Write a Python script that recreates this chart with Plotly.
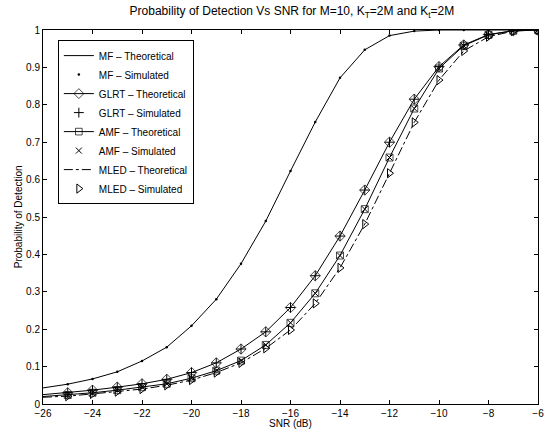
import plotly.graph_objects as go

snr_theory = list(range(-26, -5))
snr_sim = list(range(-25, -5))

mf_theory = [0.043, 0.053, 0.067, 0.086, 0.115, 0.152, 0.209, 0.280, 0.375, 0.489,
             0.623, 0.754, 0.872, 0.947, 0.985, 0.997, 1.0, 1.0, 1.0, 1.0, 1.0]
mf_sim = [0.053, 0.067, 0.086, 0.115, 0.152, 0.209, 0.280, 0.375, 0.489,
          0.623, 0.754, 0.872, 0.947, 0.985, 0.997, 1.0, 1.0, 1.0, 1.0, 1.0]

glrt_theory = [0.025, 0.030, 0.037, 0.045, 0.054, 0.066, 0.084, 0.110, 0.147, 0.193,
               0.258, 0.343, 0.449, 0.572, 0.700, 0.815, 0.902, 0.960, 0.988, 0.998, 1.0]
glrt_sim = [0.030, 0.037, 0.045, 0.054, 0.066, 0.084, 0.110, 0.147, 0.193,
            0.258, 0.343, 0.449, 0.572, 0.700, 0.815, 0.902, 0.960, 0.988, 0.998, 1.0]

amf_theory = [0.020, 0.024, 0.030, 0.037, 0.045, 0.054, 0.069, 0.089, 0.116, 0.158,
              0.217, 0.296, 0.397, 0.521, 0.659, 0.790, 0.897, 0.958, 0.987, 0.998, 1.0]
amf_sim = [0.024, 0.030, 0.037, 0.045, 0.054, 0.069, 0.089, 0.116, 0.158,
           0.217, 0.296, 0.397, 0.521, 0.659, 0.790, 0.897, 0.958, 0.987, 0.998, 1.0]

mled_theory = [0.018, 0.021, 0.027, 0.033, 0.040, 0.050, 0.064, 0.084, 0.110, 0.149,
               0.198, 0.269, 0.364, 0.481, 0.617, 0.753, 0.866, 0.944, 0.982, 0.997, 1.0]
mled_sim = [0.021, 0.027, 0.033, 0.040, 0.050, 0.064, 0.084, 0.110, 0.149,
            0.198, 0.269, 0.364, 0.481, 0.617, 0.753, 0.866, 0.944, 0.982, 0.997, 1.0]

x_ticks = list(range(-26, -5, 2))
y_ticks = [0, 0.1, 0.2, 0.3, 0.4, 0.5, 0.6, 0.7, 0.8, 0.9, 1]
y_tick_labels = ["0", "0.1", "0.2", "0.3", "0.4", "0.5", "0.6", "0.7", "0.8", "0.9", "1"]

BLACK = "black"

fig = go.Figure()

fig.add_trace(go.Scatter(x=snr_theory, y=mf_theory, mode="lines",
                         line=dict(color=BLACK, width=1), name="MF \u2013 Theoretical"))
fig.add_trace(go.Scatter(x=snr_sim, y=mf_sim, mode="markers",
                         marker=dict(color=BLACK, size=2.5, symbol="circle"),
                         name="MF \u2013 Simulated"))
fig.add_trace(go.Scatter(x=snr_theory, y=glrt_theory, mode="lines+markers",
                         line=dict(color=BLACK, width=1),
                         marker=dict(symbol="diamond-open", size=[0] + [8] * 20, color=BLACK,
                                     line=dict(width=1)),
                         name="GLRT \u2013 Theoretical"))
fig.add_trace(go.Scatter(x=snr_sim, y=glrt_sim, mode="markers",
                         marker=dict(symbol="cross-thin-open", size=7, color=BLACK,
                                     line=dict(width=1, color=BLACK)),
                         name="GLRT \u2013 Simulated"))
fig.add_trace(go.Scatter(x=snr_theory, y=amf_theory, mode="lines+markers",
                         line=dict(color=BLACK, width=1),
                         marker=dict(symbol="square-open", size=[0] + [7] * 20, color=BLACK,
                                     line=dict(width=1)),
                         name="AMF \u2013 Theoretical"))
fig.add_trace(go.Scatter(x=snr_sim, y=amf_sim, mode="markers",
                         marker=dict(symbol="x-thin-open", size=6, color=BLACK,
                                     line=dict(width=1, color=BLACK)),
                         name="AMF \u2013 Simulated"))
fig.add_trace(go.Scatter(x=snr_theory, y=mled_theory, mode="lines",
                         line=dict(color=BLACK, width=1, dash="dashdot"),
                         name="MLED \u2013 Theoretical"))
fig.add_trace(go.Scatter(x=snr_sim, y=mled_sim, mode="markers",
                         marker=dict(symbol="triangle-right-open", size=8, color=BLACK,
                                     line=dict(width=1)),
                         name="MLED \u2013 Simulated"))

axis_common = dict(showline=True, linecolor=BLACK, linewidth=1, mirror="allticks",
                   ticks="inside", ticklen=4, tickcolor=BLACK, showgrid=False,
                   zeroline=False, tickfont=dict(size=10, color=BLACK))

fig.update_layout(
    width=556, height=432,
    paper_bgcolor="white", plot_bgcolor="white",
    font=dict(family="Liberation Sans, Arial, sans-serif", size=10, color=BLACK),
    margin=dict(l=43, r=14, t=30, b=28),
    title=dict(text="Probability of Detection Vs SNR for M=10, K<sub>T</sub>=2M and K<sub>t</sub>=2M",
               x=0.525, xanchor="center", y=0.975, yanchor="middle",
               font=dict(size=12, color=BLACK)),
    xaxis=dict(range=[-26, -6], tickvals=x_ticks,
               ticktext=[str(v).replace("-", "\u2212") for v in x_ticks], **axis_common),
    yaxis=dict(range=[0, 1], tickvals=y_ticks, ticktext=y_tick_labels, **axis_common),
    legend=dict(x=0.03, y=0.973, xanchor="left", yanchor="top",
                bgcolor="white", bordercolor=BLACK, borderwidth=1,
                font=dict(size=10, color=BLACK), itemwidth=30,
                tracegroupgap=0),
    showlegend=True,
    annotations=[
        dict(text="SNR (dB)", xref="paper", yref="paper", x=0.5, y=-0.051,
             xanchor="center", yanchor="middle", showarrow=False, font=dict(size=10)),
        dict(text="Probability of Detection", xref="paper", yref="paper", x=-0.050, y=0.5,
             xanchor="center", yanchor="middle", textangle=-90, showarrow=False,
             font=dict(size=10)),
    ],
)

fig.write_html("out.html", config={"displayModeBar": False},
               post_script="document.body.style.margin='0';")
